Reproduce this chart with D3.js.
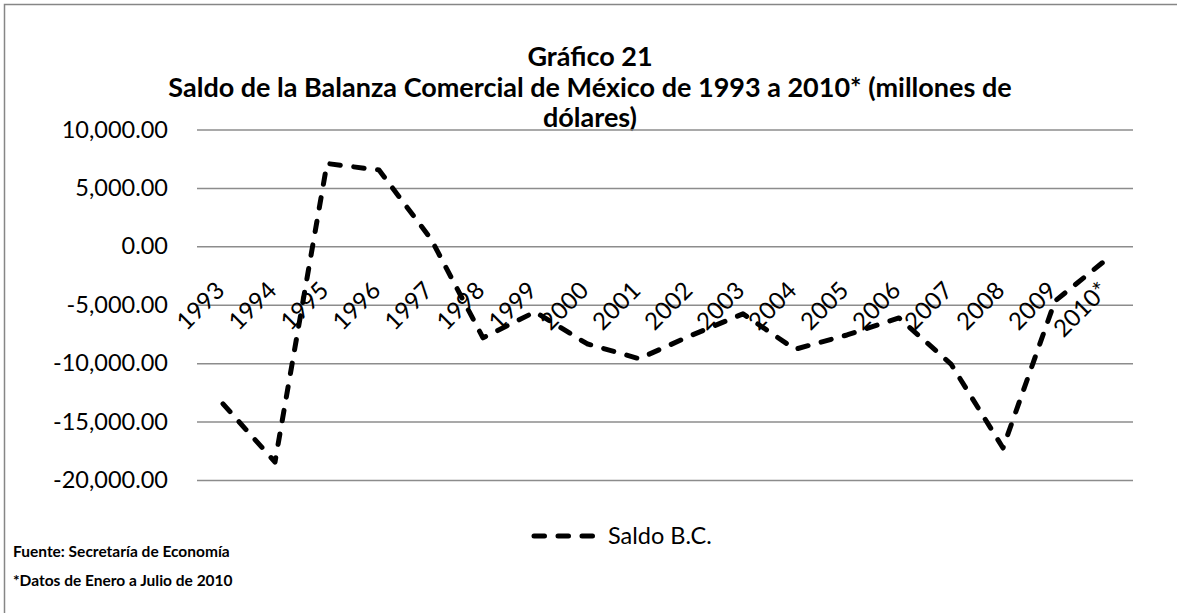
<!DOCTYPE html>
<html>
<head>
<meta charset="utf-8">
<script src="https://cdn.jsdelivr.net/npm/d3@7"></script>
<style>
  body { margin: 0; background: #fff; }
  svg { display: block; font-family: Lato, "Open Sans", sans-serif; }
</style>
</head>
<body>
<script>
// categories and values (millions of dollars)
const years = ["1993", "1994", "1995", "1996", "1997", "1998", "1999", "2000", "2001",
  "2002", "2003", "2004", "2005", "2006", "2007", "2008", "2009", "2010*"];
const saldo = [-13480, -18464, 7088, 6531, 624, -7834, -5613, -8337, -9617,
  -7633, -5779, -8811, -7587, -6133, -10074, -17261, -4681, -1080];
const yTicks = [10000, 5000, 0, -5000, -10000, -15000, -20000];
const titleLines = ["Gráfico 21",
  "Saldo de la Balanza Comercial de México de 1993 a 2010* (millones de",
  "dólares)"];
const seriesName = "Saldo B.C.";
const notes = ["Fuente: Secretaría de Economía", "*Datos de Enero a Julio de 2010"];

var width = 1177, height = 613;

// plain hyphen for negatives, like the original
var locale = d3.formatLocale({decimal: ".", thousands: ",", grouping: [3], currency: ["$", ""], minus: "-"});

var svg = d3.select("body").append("svg")
  .attr("width", width)
  .attr("height", height);

// outer frame (only top and left edges fall inside the picture)
svg.append("rect")
  .attr("x", 4.5).attr("y", 4.5)
  .attr("width", 1300).attr("height", 800)
  .attr("fill", "#fff")
  .attr("stroke", "#868686")
  .attr("stroke-width", 1.5);

var x = d3.scaleBand().domain(years).range([197, 1133]);
var y = d3.scaleLinear().domain([-20000, 10000]).range([480, 129.5]);
const cx = d => x(d) + x.bandwidth() / 2;

// title
svg.append("g").selectAll("text")
  .data(titleLines)
  .enter().append("text")
  .attr("x", 590)
  .attr("y", (d, i) => 66 + i * 30.5)
  .attr("text-anchor", "middle")
  .attr("font-weight", "bold")
  .attr("font-size", 27)
  .text(d => d);

// y axis with gridlines
const yAxis = d3.axisLeft(y)
  .tickValues(yTicks)
  .tickFormat(locale.format(",.2f"))
  .tickSize(-(1133 - 197))
  .tickPadding(29);

var gy = svg.append("g")
  .attr("transform", "translate(197,0)")
  .call(yAxis);
gy.select(".domain").remove();
gy.selectAll(".tick line").attr("stroke", "#8c8c8c").attr("stroke-width", 1.5);
gy.selectAll(".tick text")
  .attr("font-size", 23.5)
  .attr("fill", "#000")
  .style("font-family", "Lato, sans-serif");

// category labels, rotated
svg.append("g").selectAll("text")
  .data(years)
  .enter().append("text")
  .attr("transform", d => "translate(" + (cx(d) + 3) + ",292) rotate(-45)")
  .attr("text-anchor", "end")
  .attr("font-size", 24)
  .text(d => d);

// the series line
var line = d3.line()
  .x((d, i) => cx(years[i]))
  .y(d => y(d));

svg.append("path")
  .datum(saldo)
  .attr("d", line)
  .attr("fill", "none")
  .attr("stroke", "#000")
  .attr("stroke-width", 5)
  .attr("stroke-linecap", "round")
  .attr("stroke-linejoin", "round")
  .attr("stroke-dasharray", "10.5,13.5");

// legend
var legend = svg.append("g").attr("transform", "translate(532,536)");
legend.append("line")
  .attr("x1", 0).attr("x2", 63)
  .attr("stroke", "#000")
  .attr("stroke-width", 5)
  .attr("stroke-linecap", "round")
  .attr("stroke-dasharray", "10.5,13.5")
  .attr("stroke-dashoffset", -2);
legend.append("text")
  .attr("x", 76)
  .attr("dy", "0.35em")
  .attr("font-size", 23.5)
  .text(seriesName);

// notes
svg.append("g").selectAll("text")
  .data(notes)
  .enter().append("text")
  .attr("x", 13)
  .attr("y", (d, i) => 557 + i * 29)
  .attr("font-weight", "bold")
  .attr("font-size", 15.5)
  .text(d => d);
</script>
</body>
</html>
